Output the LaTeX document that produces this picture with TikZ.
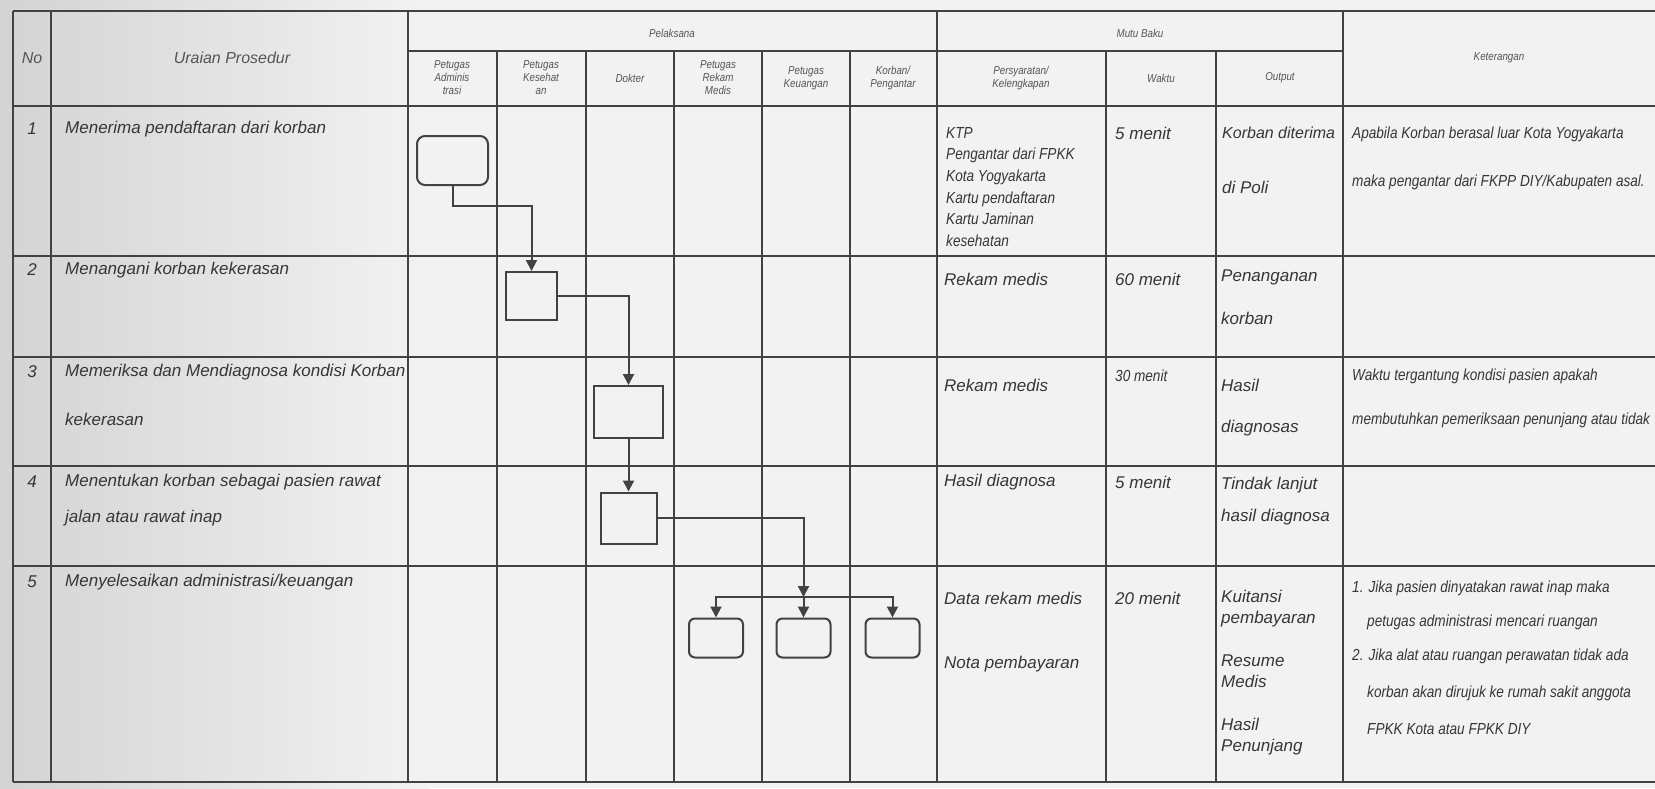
\documentclass[tikz,border=0pt]{standalone}
\usepackage{fontspec}
\setmainfont{Liberation Sans}
\newfontfamily\narrowfont[FakeStretch=0.85]{Liberation Sans}
\usetikzlibrary{arrows.meta, positioning}

\definecolor{ink}{HTML}{363636}
\definecolor{rule}{HTML}{424242}
\definecolor{headink}{HTML}{555555}

\newcommand{\bodytext}{\fontsize{17}{20.5}\selectfont\itshape}
\newcommand{\headtext}{\narrowfont\fontsize{11.5}{13}\selectfont\itshape}
\newcommand{\notetext}{\narrowfont\fontsize{16}{21.6}\selectfont\itshape}

\begin{document}
\begin{tikzpicture}[
    x=1pt, y=-1pt,
    grid/.style={draw=rule, line width=2pt},
    cell/.style={anchor=west, inner sep=0pt, text=ink, font=\bodytext},
    cellblock/.style={anchor=north west, inner sep=0pt, align=left, text=ink, font=\bodytext},
    note/.style={anchor=west, inner sep=0pt, text=ink, font=\notetext},
    head/.style={inner sep=0pt, align=center, text=headink, font=\headtext},
    bighead/.style={inner sep=0pt, text=headink, font=\fontsize{16}{18}\selectfont\itshape},
    flowbox/.style={draw=rule, line width=2pt, inner sep=0pt},
    arrow/.style={-{Triangle[length=11pt, width=11pt]}, line width=2pt, draw=rule}
]
    % Page and scanned paper
    \useasboundingbox (0,0) rectangle (1655,788);
    \fill[black!5] (0,0) rectangle (1655,788);
    \shade[left color=black!17, right color=black!5] (0,0) rectangle (430,788);

    % Table rules
    \draw[grid] (13,11) -- (1655,11);
    \draw[grid] (408,51) -- (1343,51);
    \draw[grid] (13,106) -- (1655,106);
    \draw[grid] (13,256) -- (1655,256);
    \draw[grid] (13,357) -- (1655,357);
    \draw[grid] (13,466) -- (1655,466);
    \draw[grid] (13,566) -- (1655,566);
    \draw[grid] (13,782) -- (1655,782);
    \draw[grid] (13,11) -- (13,782);
    \draw[grid] (51,11) -- (51,782);
    \draw[grid] (408,11) -- (408,782);
    \draw[grid] (937,11) -- (937,782);
    \draw[grid] (1343,11) -- (1343,782);
    \draw[grid] (497,51) -- (497,782);
    \draw[grid] (586,51) -- (586,782);
    \draw[grid] (674,51) -- (674,782);
    \draw[grid] (762,51) -- (762,782);
    \draw[grid] (850,51) -- (850,782);
    \draw[grid] (1106,51) -- (1106,782);
    \draw[grid] (1216,51) -- (1216,782);

    % Header
    \node[bighead] (hNo) at (32,58) {No};
    \node[bighead] (hUraian) at (232,58) {Uraian Prosedur};
    \node[head] (hPelaksana) at (672,33) {Pelaksana};
    \node[head] (hAdmin) at (452,78) {Petugas\\Adminis\\trasi};
    \node[head] (hKes) at (541,78) {Petugas\\Kesehat\\an};
    \node[head] (hDokter) at (630,78) {Dokter};
    \node[head] (hRekam) at (718,78) {Petugas\\Rekam\\Medis};
    \node[head] (hKeu) at (806,78) {Petugas\\Keuangan};
    \node[head] (hKorban) at (893,78) {Korban/\\Pengantar};
    \node[head] (hMutu) at (1140,33) {Mutu Baku};
    \node[head] (hSyarat) at (1021,78) {Persyaratan/\\Kelengkapan};
    \node[head] (hWaktu) at (1161,78) {Waktu};
    \node[head] (hOutput) at (1280,78) {Output};
    \node[head] (hKet) at (1499,58) {Keterangan};

    % Row 1
    \node[cell, anchor=center] (r1no) at (32,129) {1};
    \node[cell] (r1step) at (65,129) {Menerima pendaftaran dari korban};
    \node[note, anchor=north west, align=left] (r1syarat) at (946,127)
        {KTP\\Pengantar dari FPKK\\Kota Yogyakarta\\Kartu pendaftaran\\Kartu Jaminan\\kesehatan};
    \node[cell] (r1waktu) at (1115,133) {5 menit};
    \node[cell, font=\fontsize{16}{19}\selectfont\itshape] (r1out) at (1222,133) {Korban diterima};
    \node[cell] (r1outb) at (1222,187) {di Poli};
    \node[note] (r1ket) at (1352,134) {Apabila Korban berasal luar Kota Yogyakarta};
    \node[note] (r1ketb) at (1352,182) {maka pengantar dari FKPP DIY/Kabupaten asal.};

    % Row 2
    \node[cell, anchor=center] (r2no) at (32,270) {2};
    \node[cell] (r2step) at (65,270) {Menangani korban kekerasan};
    \node[cell] (r2syarat) at (944,279) {Rekam medis};
    \node[cell] (r2waktu) at (1115,279) {60 menit};
    \node[cell] (r2out) at (1221,277) {Penanganan};
    \node[cell] (r2outb) at (1221,318) {korban};

    % Row 3
    \node[cell, anchor=center] (r3no) at (32,372) {3};
    \node[cell] (r3step) at (65,372) {Memeriksa dan Mendiagnosa kondisi Korban};
    \node[cell] (r3stepb) at (65,419) {kekerasan};
    \node[cell] (r3syarat) at (944,385) {Rekam medis};
    \node[note] (r3waktu) at (1115,376) {30 menit};
    \node[cell] (r3out) at (1221,385) {Hasil};
    \node[cell] (r3outb) at (1221,428) {diagnosas};
    \node[note] (r3ket) at (1352,376) {Waktu tergantung kondisi pasien apakah};
    \node[note] (r3ketb) at (1352,420) {membutuhkan pemeriksaan penunjang atau tidak};

    % Row 4
    \node[cell, anchor=center] (r4no) at (32,482) {4};
    \node[cell] (r4step) at (65,482) {Menentukan korban sebagai pasien rawat};
    \node[cell] (r4stepb) at (65,518) {jalan atau rawat inap};
    \node[cell] (r4syarat) at (944,482) {Hasil diagnosa};
    \node[cell] (r4waktu) at (1115,482) {5 menit};
    \node[cell] (r4out) at (1221,485) {Tindak lanjut};
    \node[cell] (r4outb) at (1221,517) {hasil diagnosa};

    % Row 5
    \node[cell, anchor=center] (r5no) at (32,582) {5};
    \node[cell] (r5step) at (65,582) {Menyelesaikan administrasi/keuangan};
    \node[cell] (r5syarat) at (944,598) {Data rekam medis};
    \node[cell] (r5syaratb) at (944,664) {Nota pembayaran};
    \node[cell] (r5waktu) at (1115,598) {20 menit};
    \node[cellblock] (r5out) at (1221,590) {Kuitansi\\pembayaran};
    \node[cellblock] (r5outb) at (1221,655) {Resume\\Medis};
    \node[cellblock] (r5outc) at (1221,718) {Hasil\\Penunjang};
    \node[note] (r5ket) at (1352,588) {1. Jika pasien dinyatakan rawat inap maka};
    \node[note] (r5ketb) at (1367,622) {petugas administrasi mencari ruangan};
    \node[note] (r5ketc) at (1352,656) {2. Jika alat atau ruangan perawatan tidak ada};
    \node[note] (r5ketd) at (1367,693) {korban akan dirujuk ke rumah sakit anggota};
    \node[note] (r5kete) at (1367,729) {FPKK Kota atau FPKK DIY};

    % Flow boxes
    \node[flowbox, rounded corners=8pt, minimum width=71pt, minimum height=49pt] (daftar) at (452.5,160.5) {};
    \node[flowbox, minimum width=51pt, minimum height=48pt] (tangani) at (531.5,296) {};
    \node[flowbox, minimum width=69pt, minimum height=52pt] (periksa) at (628.5,412) {};
    \node[flowbox, minimum width=56pt, minimum height=51pt] (tentukan) at (628.5,518) {};
    \node[flowbox, rounded corners=6pt, minimum width=54pt, minimum height=39pt] (rekamBox) at (716,638) {};
    \node[flowbox, rounded corners=6pt, minimum width=54pt, minimum height=39pt] (keuBox) at (803.5,638) {};
    \node[flowbox, rounded corners=6pt, minimum width=54pt, minimum height=39pt] (korbanBox) at (892.5,638) {};
    \coordinate (split) at (803.5,597);

    % Arrows
    \draw[arrow] (daftar.south) -- ++(0,20) -| (tangani.north);
    \draw[arrow] (tangani.east) -| (periksa.north);
    \draw[arrow] (periksa.south) -- (tentukan.north);
    \draw[arrow] (tentukan.east) -| (split);
    \draw[arrow] (split) -| (rekamBox.north);
    \draw[arrow] (split) -- (keuBox.north);
    \draw[arrow] (split) -| (korbanBox.north);
\end{tikzpicture}
\end{document}
